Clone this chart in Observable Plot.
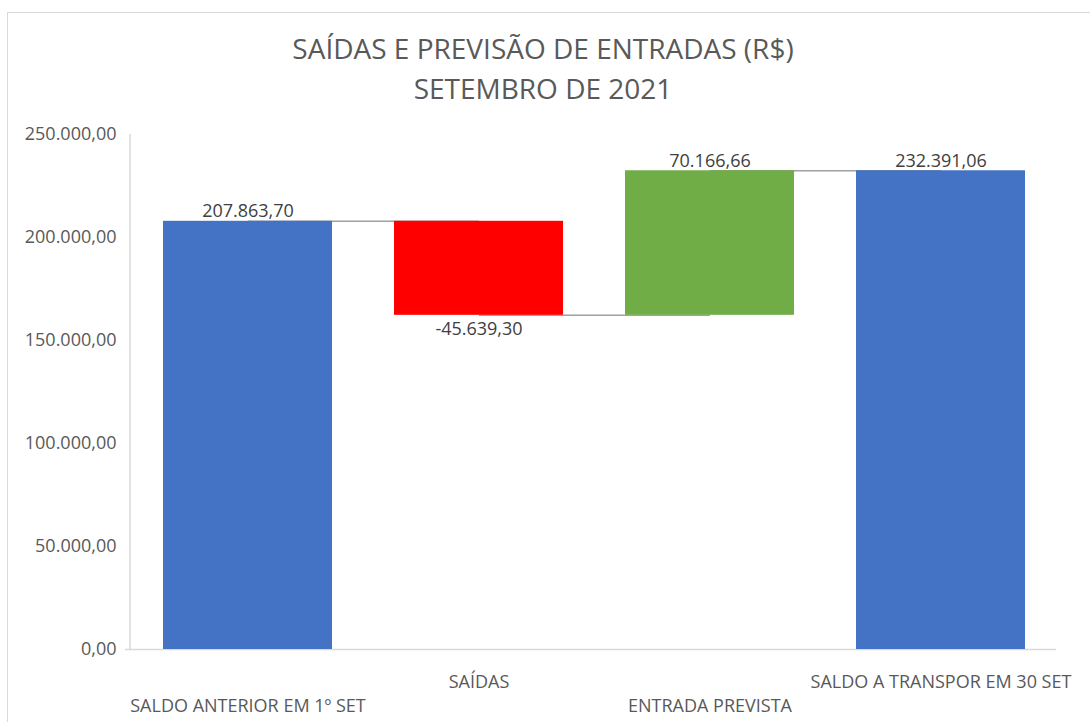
<!DOCTYPE html>
<html>
<head>
<meta charset="utf-8">
<script src="https://cdn.jsdelivr.net/npm/d3@7"></script>
<script src="https://cdn.jsdelivr.net/npm/@observablehq/plot@0.6"></script>
<style>
  html, body { margin: 0; padding: 0; background: #fff; }
  body { width: 1090px; height: 722px; position: relative; overflow: hidden; font-family: "Open Sans", sans-serif; }
  #frame { position: absolute; left: 7px; top: 12px; width: 1100px; height: 720px; border: 1px solid #d9d9d9; box-sizing: border-box; }
  #title { position: absolute; left: 0; top: 0; width: 1090px; text-align: center; color: #595959; font-size: 28px; line-height: 40px; }
  #title .l1 { position: absolute; left: 0; width: 1086px; top: 28px; }
  #title .l2 { position: absolute; left: 0; width: 1086px; top: 68px; }
  #chart { position: absolute; left: 0; top: 0; }
</style>
</head>
<body>
<div id="frame"></div>
<div id="chart"></div>
<div id="title"><div class="l1">SAÍDAS E PREVISÃO DE ENTRADAS (R$)</div><div class="l2">SETEMBRO DE 2021</div></div>
<script>
const categories = ["SALDO ANTERIOR EM 1º SET", "SAÍDAS", "ENTRADA PREVISTA", "SALDO A TRANSPOR EM 30 SET"];
const values = [207863.70, -45639.30, 70166.66, 232391.06];
const kinds = ["total", "delta", "delta", "total"];
const yTicks = [0, 50000, 100000, 150000, 200000, 250000];
const colors = {total: "#4472C4", up: "#70AD47", down: "#FF0000"};

const locale = d3.formatLocale({decimal: ",", thousands: ".", grouping: [3], currency: ["R$", ""], minus: "-"});
const fmt = locale.format(",.2f");

// build waterfall table
let running = 0;
const rows = categories.map((c, i) => {
  let start, end;
  if (kinds[i] === "total") { start = 0; end = values[i]; running = values[i]; }
  else { start = running; end = running + values[i]; running = end; }
  const type = kinds[i] === "total" ? "total" : (values[i] < 0 ? "down" : "up");
  return {cat: c, value: values[i], start, end, type, level: running};
});
const links = rows.slice(0, -1).map((r, i) => ({from: r.cat, to: rows[i + 1].cat, y: r.level}));
const labelsUp = rows.filter(r => r.type !== "down");
const labelsDown = rows.filter(r => r.type === "down");

const chart = Plot.plot({
  width: 1090,
  height: 722,
  marginTop: 134,
  marginBottom: 73,
  marginLeft: 131,
  marginRight: 34,
  style: {fontFamily: "Open Sans, sans-serif", fontSize: "18px", color: "#595959", background: "transparent"},
  x: {domain: categories, paddingInner: 0.27, paddingOuter: 0.135, label: null},
  y: {domain: [0, 250000], label: null},
  marks: [
    Plot.axisY({ticks: yTicks, tickFormat: fmt, tickSize: 0, tickPadding: 15, fontSize: 18, fill: "#595959", label: null}),
    Plot.axisX([categories[1], categories[3]], {tickSize: 0, tickPadding: 26, fontSize: 18, fill: "#595959", label: null}),
    Plot.axisX([categories[0], categories[2]], {tickSize: 0, tickPadding: 50, fontSize: 18, fill: "#595959", label: null}),
    (index, scales, values, dims) => {
      const line = d3.create("svg:line")
        .attr("x1", dims.marginLeft - 1).attr("x2", dims.marginLeft - 1)
        .attr("y1", dims.marginTop).attr("y2", dims.height - dims.marginBottom)
        .attr("stroke", "#d9d9d9").attr("stroke-width", 1.5);
      return line.node();
    },
    Plot.ruleY([0], {stroke: "#d9d9d9", strokeWidth: 1.5, insetLeft: -6}),
    Plot.link(links, {x1: "from", x2: "to", y1: "y", y2: "y", stroke: "#a0a0a0", strokeWidth: 1.5}),
    Plot.barY(rows, {x: "cat", y1: "start", y2: "end", fill: d => colors[d.type]}),
    Plot.text(labelsUp, {x: "cat", y: d => Math.max(d.start, d.end), text: d => fmt(d.value), lineAnchor: "bottom", dy: -4, fontSize: 18, fill: "#404040"}),
    Plot.text(labelsDown, {x: "cat", y: d => Math.min(d.start, d.end), text: d => fmt(d.value), lineAnchor: "top", dy: 7, fontSize: 18, fill: "#404040"})
  ]
});
document.getElementById("chart").appendChild(chart);
</script>
</body>
</html>
